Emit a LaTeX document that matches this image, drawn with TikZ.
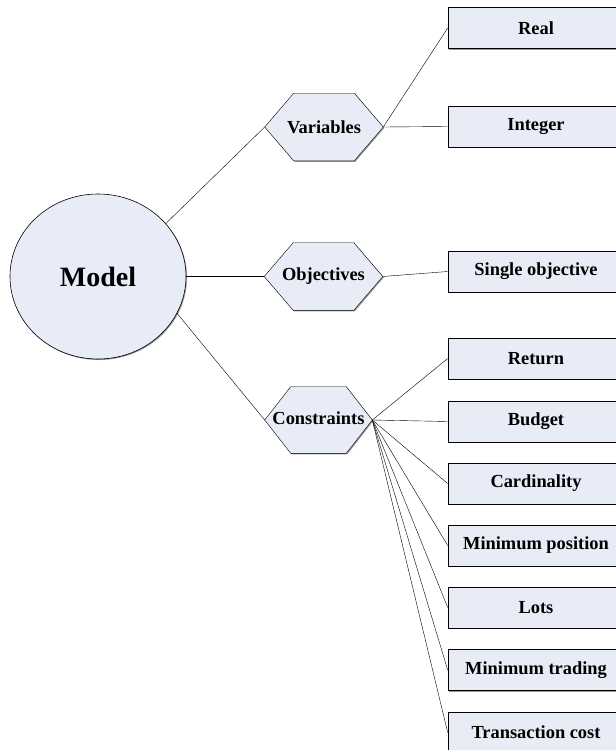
\documentclass[tikz,border=0pt]{standalone}
\usepackage{fontspec}
\setmainfont{Liberation Serif}
\usetikzlibrary{shapes.geometric,shadows}
\pgfdeclarelayer{background}
\pgfsetlayers{background,main}
\definecolor{boxfill}{RGB}{232,236,246}
\tikzset{
  shade box/.style={drop shadow={shadow xshift=1pt, shadow yshift=-1pt, fill=black!40, opacity=1}},
  leaf/.style={draw, fill=boxfill, rectangle, minimum width=176pt, minimum height=41pt, inner sep=0pt, shade box, font=\fontsize{18.4}{22}\selectfont\bfseries},
  hexa/.style={rectangle, minimum width=118pt, minimum height=67pt, inner sep=0pt, font=\fontsize{18.4}{22}\selectfont\bfseries},
  hexa line/.style={draw, fill=boxfill, line join=miter, shade box}
}
\begin{document}
\begin{tikzpicture}[x=1pt, y=-1pt, line width=0.6pt]
            \useasboundingbox (0,0) rectangle (616,750);
            \node [ellipse, draw, fill=boxfill, minimum width=176pt, minimum height=165pt, inner sep=0pt, shade box, font=\fontsize{28}{34}\selectfont\bfseries] (Model) at (98,276.5) {Model};
            \node [hexa] (Variables) at (324,127) {Variables};
            \node [hexa] (Objectives) at (323.5,276.5) {Objectives};
            \node [hexa, minimum width=107pt, minimum height=66pt] (Constraints) at (318.5,420) {\raisebox{3pt}{Constraints}};
            \node [leaf] (Real) at (536,28) {Real};
            \node [leaf] (Integer) at (536,126.5) {Integer};
            \node [leaf] (Single) at (536,271.5) {Single objective};
            \node [leaf] (Return) at (536,358.5) {Return};
            \node [leaf] (Budget) at (536,421.5) {Budget};
            \node [leaf] (Cardinality) at (536,483.5) {Cardinality};
            \node [leaf] (MinPosition) at (536,545.5) {Minimum position};
            \node [leaf] (Lots) at (536,607.5) {Lots};
            \node [leaf] (MinTrading) at (536,670) {Minimum trading};
            \node [leaf] (TransCost) at (536,732.5) {Transaction cost};
            % hexagon outlines behind the labels
            \begin{pgfonlayer}{background}
                \foreach \hex/\cut in {Variables/29pt,Objectives/29pt,Constraints/26pt}
                    \path [hexa line] (\hex.west) -- ([xshift=\cut]\hex.north west) -- ([xshift=-\cut]\hex.north east)
                        -- (\hex.east) -- ([xshift=-\cut]\hex.south east) -- ([xshift=\cut]\hex.south west) -- cycle;
            \end{pgfonlayer}
            \path (Model.38) edge (Variables.west);
            \path (Model.east) edge (Objectives.west);
            \path (Model.-25) edge (Constraints.west);
            \path (Variables.east) edge (Real.west);
            \path (Variables.east) edge (Integer.west);
            \path (Objectives.east) edge (Single.west);
            \foreach \leaf in {Return,Budget,Cardinality,MinPosition,Lots,MinTrading,TransCost}
                \path (Constraints.east) edge (\leaf.west);
        \end{tikzpicture}
\end{document}
